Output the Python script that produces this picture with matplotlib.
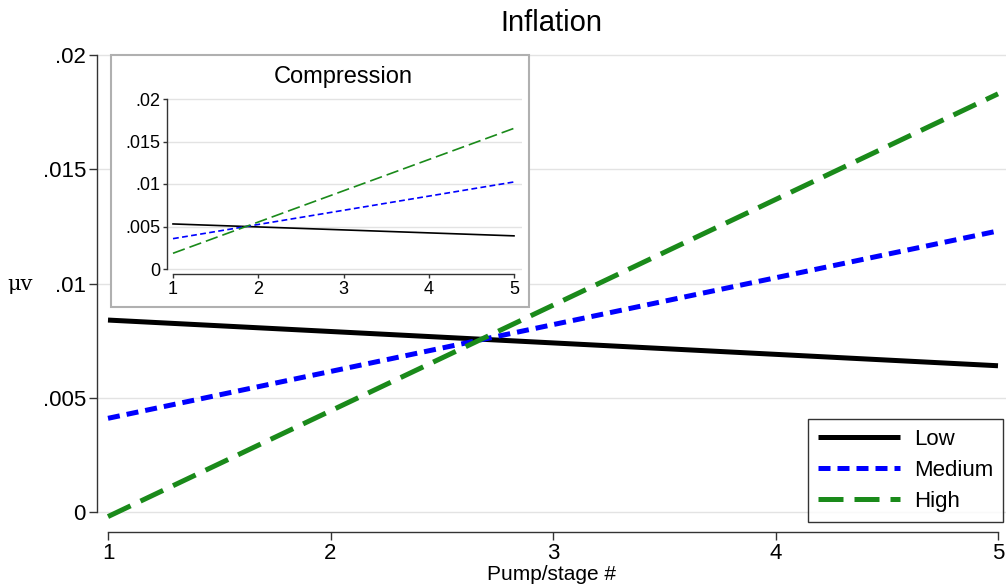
import matplotlib
matplotlib.use("Agg")
import matplotlib.pyplot as plt
from matplotlib.patches import Rectangle

plt.rcParams['font.family'] = ['Liberation Sans', 'DejaVu Sans']

# datos
stages = [1, 5]
series = ["Low", "Medium", "High"]
infl_low = [0.0084, 0.0064]
infl_medium = [0.0041, 0.0123]
infl_high = [-0.0002, 0.0183]
comp_low = [0.0053, 0.0039]
comp_medium = [0.00357, 0.01024]
comp_high = [0.00185, 0.01655]
yticks = [0, 0.005, 0.01, 0.015, 0.02]
ytick_labels = ["0", ".005", ".01", ".015", ".02"]
xticks = [1, 2, 3, 4, 5]

W, H = 1006, 585
fig = plt.figure(figsize=(W / 100, H / 100), dpi=100)


def box(l, t, r, b):
    return [l / W, (H - b) / H, (r - l) / W, (b - t) / H]


def style_axes(ax, fs, ticklen):
    for s in ["top", "right"]:
        ax.spines[s].set_visible(False)
    ax.spines["left"].set_bounds(0, 0.02)
    ax.spines["bottom"].set_bounds(1, 5)
    for s in ["left", "bottom"]:
        ax.spines[s].set_color("#333333")
        ax.spines[s].set_linewidth(1.0)
    ax.set_yticks(yticks)
    ax.set_yticklabels(ytick_labels)
    ax.set_xticks(xticks)
    ax.tick_params(labelsize=fs, length=ticklen, width=1.0, color="#333333", pad=2)
    ax.grid(axis="y", color="#e3e3e3", linewidth=1.0)
    ax.set_axisbelow(True)


# Grafico principal
ax = fig.add_axes(box(97, 48, 1006, 532))
lw = 3.6
ax.plot(stages, infl_low, color="black", lw=lw, solid_capstyle="butt", label=series[0])
ax.plot(stages, infl_medium, color="#0000ff", lw=lw, dashes=(2.4, 1.4), label=series[1])
ax.plot(stages, infl_high, color="#1a8a1a", lw=lw, dashes=(5.0, 2.2), label=series[2])
ax.set_xlim(1 - 11 / 222.5, 5 + 8 / 222.5)
ax.set_ylim(-20 / 457 * 0.02, 0.02 + 7 / 457 * 0.02)
style_axes(ax, 16, 6)
ax.set_xlabel("Pump/stage #", fontsize=15, labelpad=1)
ax.set_title("Inflation", fontsize=21, pad=12)
fig.text(20 / W, (H - 284) / H, "\u03bcv", fontsize=15, ha="center", va="center",
         family=["DejaVu Serif"])

leg = ax.legend(loc="lower right", bbox_to_anchor=(1003 / W, (H - 522) / H),
                bbox_transform=fig.transFigure, fontsize=16, handlelength=3.7,
                borderaxespad=0, fancybox=False, edgecolor="black",
                borderpad=0.45, labelspacing=0.45, handletextpad=0.6)
leg.get_frame().set_linewidth(1.0)

# Recuadro de compresion
fig.patches.append(Rectangle((111 / W, (H - 307) / H), (529 - 111) / W, (307 - 55) / H,
                             transform=fig.transFigure, facecolor="white",
                             edgecolor="#b0b0b0", linewidth=1.5, zorder=5))
fig.text(343 / W, (H - 77) / H, "Compression", fontsize=17, ha="center", va="center", zorder=6)

ins = fig.add_axes(box(167, 95, 522, 274))
ins.set_zorder(6)
ins.patch.set_alpha(0)
lw2 = 1.2
ins.plot(stages, comp_low, color="black", lw=lw2)
ins.plot(stages, comp_medium, color="#0000ff", lw=lw2, dashes=(3.5, 2.0))
ins.plot(stages, comp_high, color="#1a8a1a", lw=lw2, dashes=(7.5, 3.0))
ins.set_xlim(1 - 6 / 85.25, 5 + 8 / 85.25)
ins.set_ylim(-5 / 170 * 0.02, 0.02 + 4 / 170 * 0.02)
style_axes(ins, 13, 3)

plt.savefig("out.png", dpi=100)
